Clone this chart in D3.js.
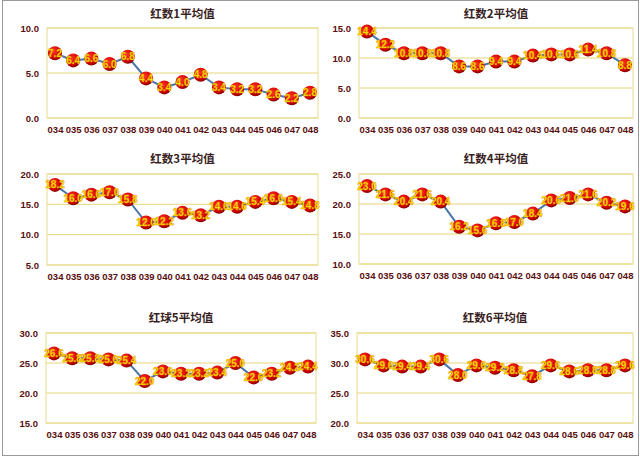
<!DOCTYPE html>
<html><head><meta charset="utf-8">
<script src="https://cdn.jsdelivr.net/npm/d3@7"></script>
<style>body{margin:0;background:#fff}svg{display:block}</style>
</head><body>
<svg id="c" width="640" height="458"></svg>
<script>
const periods = ["034","035","036","037","038","039","040","041","042","043","044","045","046","047","048"];
const titles = ["红数1平均值","红数2平均值","红数3平均值","红数4平均值","红球5平均值","红数6平均值"];
const s1 = [7.2,6.4,6.6,6.0,6.8,4.4,3.4,4.0,4.8,3.4,3.2,3.2,2.6,2.2,2.8];
const s2 = [14.4,12.2,10.8,10.8,10.8,8.6,8.6,9.4,9.4,10.4,10.6,10.6,11.4,10.8,8.8];
const s3 = [18.2,16.0,16.6,17.0,15.8,12.0,12.2,13.6,13.2,14.6,14.6,15.4,16.0,15.4,14.8];
const s4 = [23.0,21.6,20.4,21.6,20.4,16.2,15.6,16.8,17.0,18.4,20.6,21.0,21.6,20.2,19.6];
const s5 = [26.6,25.8,25.8,25.6,25.4,22.0,23.6,23.2,23.2,23.4,25.0,22.6,23.2,24.2,24.4];
const s6 = [30.6,29.6,29.4,29.4,30.6,28.0,29.6,29.2,28.8,27.8,29.6,28.6,28.8,28.8,29.6];
const series = [s1,s2,s3,s4,s5,s6];
const yDomains = [[0,10],[0,15],[5,20],[10,25],[15,30],[20,35]];
const yTicks = [[0,5,10],[0,5,10,15],[5,10,15,20],[10,15,20,25],[15,20,25,30],[20,25,30,35]];

const svg = d3.select("#c");
svg.append("rect").attr("x",2.5).attr("y",0.5).attr("width",636).attr("height",455).attr("fill","#fff").attr("stroke","#9a9a9a");
const defs = svg.append("defs");
const g = defs.append("radialGradient").attr("id","ball").attr("cx","40%").attr("cy","35%").attr("r","65%");
g.append("stop").attr("offset","0%").attr("stop-color","#ff3a2a");
g.append("stop").attr("offset","70%").attr("stop-color","#d40000");
g.append("stop").attr("offset","100%").attr("stop-color","#8a0000");

const boxes = [
 {x0:47,x1:318,y0:28,y1:118,ty:14},
 {x0:359,x1:633,y0:28,y1:118,ty:14},
 {x0:47,x1:318,y0:174,y1:265,ty:159},
 {x0:359,x1:633,y0:174,y1:264,ty:159},
 {x0:46,x1:316,y0:333,y1:423,ty:318},
 {x0:357,x1:633,y0:333,y1:423,ty:318}
];

boxes.forEach((b,i)=>{
  const data = series[i];
  const x = d3.scalePoint().domain(periods).range([b.x0+8,b.x1-8]);
  const y = d3.scaleLinear().domain(yDomains[i]).range([b.y1,b.y0]);
  const p = svg.append("g");
  p.append("text").attr("x",(b.x0+b.x1)/2).attr("y",b.ty+4).attr("text-anchor","middle")
    .attr("font-family","'Noto Sans CJK SC',sans-serif").attr("font-weight","bold").attr("font-size",11.5)
    .attr("fill","#3a1f1f").text(titles[i]);
  yTicks[i].forEach(t=>{
    p.append("line").attr("x1",b.x0).attr("x2",b.x1).attr("y1",y(t)).attr("y2",y(t))
      .attr("stroke","#e6d67a").attr("stroke-width",1);
  });
  p.append("rect").attr("x",b.x0).attr("y",b.y0).attr("width",b.x1-b.x0).attr("height",b.y1-b.y0)
    .attr("fill","none").attr("stroke","#e8dc8c");
  const ya = p.append("g").attr("transform",`translate(${b.x0},0)`)
    .call(d3.axisLeft(y).tickValues(yTicks[i]).tickFormat(d3.format(".1f")).tickSize(0).tickPadding(8));
  ya.select(".domain").remove();
  ya.selectAll("text").attr("font-family","Arial,'Liberation Sans',sans-serif").attr("font-weight","bold").attr("font-size",9.5).attr("fill","#5a0f0f");
  const xa = p.append("g").attr("transform",`translate(0,${b.y1})`)
    .call(d3.axisBottom(x).tickSize(0).tickPadding(8));
  xa.select(".domain").remove();
  xa.selectAll("text").attr("font-family","Arial,'Liberation Sans',sans-serif").attr("font-weight","bold").attr("font-size",9.5).attr("fill","#5a0f0f");
  p.append("path").datum(data).attr("fill","none").attr("stroke","#4a76a8").attr("stroke-width",2)
    .attr("d",d3.line().x((d,j)=>x(periods[j])).y(d=>y(d)));
  p.selectAll("circle").data(data).join("circle")
    .attr("cx",(d,j)=>x(periods[j])).attr("cy",d=>y(d)).attr("r",7).attr("fill","url(#ball)");
  p.selectAll("text.lbl").data(data).join("text").attr("class","lbl")
    .attr("x",(d,j)=>x(periods[j])).attr("y",d=>y(d)+3.5).attr("text-anchor","middle")
    .attr("font-family","Arial,'Liberation Sans',sans-serif").attr("font-weight","bold").attr("font-size",10)
    .attr("fill","#ffee00").attr("stroke","#e08a00").attr("stroke-width",0.4)
    .text(d=>d.toFixed(1));
});
</script>
</body></html>
